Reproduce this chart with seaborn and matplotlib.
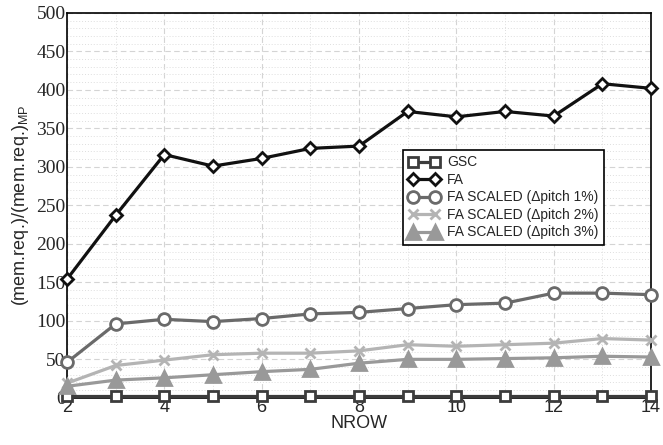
import numpy as np
import pandas as pd
import matplotlib
matplotlib.use("Agg")
import matplotlib.pyplot as plt
import seaborn as sns
from matplotlib.ticker import MultipleLocator

# data
nrow = [2, 3, 4, 5, 6, 7, 8, 9, 10, 11, 12, 13, 14]
gsc = [3, 3, 3, 3, 3, 3, 3, 3, 3, 3, 3, 3, 3]
fa = [154, 237, 316, 301, 311, 324, 327, 372, 365, 372, 366, 408, 402]
fa_1 = [46, 96, 102, 99, 103, 109, 111, 116, 121, 123, 136, 136, 134]
fa_2 = [19, 42, 49, 56, 58, 58, 61, 69, 67, 69, 71, 77, 75]
fa_3 = [15, 23, 26, 30, 34, 37, 45, 50, 50, 51, 52, 54, 53]
labels = ["GSC", "FA", "FA SCALED (\u0394pitch 1%)",
          "FA SCALED (\u0394pitch 2%)", "FA SCALED (\u0394pitch 3%)"]

sns.set_style("white")
plt.rcParams['font.family'] = ['Liberation Sans', 'DejaVu Sans']

fig = plt.figure(figsize=(6.63, 4.45), dpi=100)
ax = fig.add_axes([0.101, 0.106, 0.881, 0.865])

styles = [
    (gsc, "#3c3c3c", "s", 6.5, "white"),
    (fa, "#111111", "D", 6.5, "white"),
    (fa_1, "#6a6a6a", "o", 8.5, "white"),
    (fa_2, "#b4b4b4", "x", 6.5, "#b4b4b4"),
    (fa_3, "#999999", "^", 9.5, "#999999"),
]
for (vals, col, mk, ms, mfc), lab in zip(styles, labels):
    sns.lineplot(x=nrow, y=vals, ax=ax, color=col, marker=mk, markersize=ms,
                 markerfacecolor=mfc, markeredgecolor=col, markeredgewidth=2.0,
                 linewidth=2.3, label=lab, clip_on=False, zorder=3)

ax.set_xlim(2, 14)
ax.set_ylim(0, 500)
ax.xaxis.set_major_locator(MultipleLocator(2))
ax.xaxis.set_minor_locator(MultipleLocator(1))
ax.yaxis.set_major_locator(MultipleLocator(50))
ax.yaxis.set_minor_locator(MultipleLocator(10))
ax.grid(which="major", color="#d4d4d4", linestyle=(0, (5, 3)), linewidth=0.8)
ax.grid(which="minor", color="#dedede", linestyle=(0, (1, 2)), linewidth=0.7)
ax.set_axisbelow(True)
for s in ax.spines.values():
    s.set_color("black")
    s.set_linewidth(1.2)

ax.tick_params(axis="both", which="both", length=0, pad=1)
for t in ax.get_yticklabels():
    t.set_fontfamily("Liberation Serif")
    t.set_fontsize(14)
for t in ax.get_xticklabels():
    t.set_fontsize(13)

ax.set_xlabel("NROW", fontsize=13, labelpad=-1)
ax.set_ylabel("(mem.req.)/(mem.req.)$_{\\mathregular{MP}}$", fontsize=13, labelpad=4)

leg = ax.legend(loc="upper left", bbox_to_anchor=(0.575, 0.644), fontsize=10,
                frameon=True, fancybox=False, borderpad=0.4, labelspacing=0.25,
                handlelength=2.2, handletextpad=0.6, borderaxespad=0, numpoints=2)
leg.get_frame().set_edgecolor("black")
leg.get_frame().set_linewidth(1.2)
leg.get_frame().set_alpha(1)

fig.savefig("out.png", dpi=100)
